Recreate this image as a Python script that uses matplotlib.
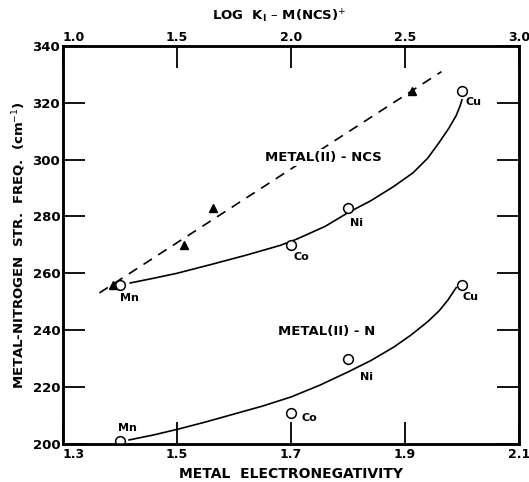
import matplotlib
matplotlib.use("Agg")
import matplotlib.pyplot as plt

# ---- data ----
metals = ["Mn", "Co", "Ni", "Cu"]
electroneg = [1.4, 1.7, 1.8, 2.0]
ncs_freq = [256, 270, 283, 324]
n_freq = [201, 211, 230, 256]
log_k1 = [1.22, 1.53, 1.66, 2.53]

# hand-drawn smooth curves
ncs_curve_x = [1.418, 1.46, 1.50, 1.558, 1.62, 1.681, 1.71, 1.76, 1.80, 1.84,
               1.88, 1.914, 1.94, 1.96, 1.977, 1.99, 1.997, 2.0]
ncs_curve_y = [256.6, 258.3, 260.0, 263.0, 266.3, 269.8, 272.0, 276.5, 281.3, 285.5,
               290.5, 295.3, 300.5, 306.0, 311.0, 315.5, 319.0, 321.0]
n_curve_x = [1.416, 1.46, 1.504, 1.55, 1.60, 1.65, 1.70, 1.75, 1.80, 1.84,
             1.88, 1.91, 1.94, 1.96, 1.975, 1.99]
n_curve_y = [201.4, 203.2, 205.3, 207.7, 210.5, 213.3, 216.5, 220.6, 225.3, 229.3,
             234.0, 238.2, 243.0, 246.8, 250.5, 255.0]

# dashed line vs log K1 (end points)
dash_x = [1.16, 2.66]
dash_y = [253.1, 330.9]

x_ticks = [1.3, 1.5, 1.7, 1.9, 2.1]
top_ticks = [1.0, 1.5, 2.0, 2.5, 3.0]
y_ticks = [200, 220, 240, 260, 280, 300, 320, 340]

# ---- figure ----
fig = plt.figure(figsize=(5.29, 4.82), dpi=100)
ax = fig.add_axes([0.119, 0.079, 0.862, 0.826])
ax.set_xlim(1.3, 2.1)
ax.set_ylim(200, 340)

fw = "bold"
for s in ax.spines.values():
    s.set_linewidth(1.8)

ax.plot(ncs_curve_x, ncs_curve_y, color="black", lw=1.2, zorder=2)
ax.plot(n_curve_x, n_curve_y, color="black", lw=1.2, zorder=2)
ax.plot(electroneg, ncs_freq, "o", ms=7, mfc="white", mec="black", mew=1.1, zorder=4)
ax.plot(electroneg, n_freq, "o", ms=7, mfc="white", mec="black", mew=1.1, zorder=4)

ax.set_xticks(x_ticks)
ax.set_xticklabels([f"{v:.1f}" for v in x_ticks], fontsize=9, fontweight=fw)
ax.get_xticklabels()[0].set_horizontalalignment("left")
ax.set_yticks(y_ticks)
ax.set_yticklabels([str(v) for v in y_ticks], fontsize=9.5, fontweight=fw)
ax.tick_params(axis="both", direction="in", length=16, width=1.3,
               right=True, top=False)
ax.tick_params(axis="y", pad=2)
ax.tick_params(axis="x", pad=3)

ax.set_xlabel("METAL  ELECTRONEGATIVITY", fontsize=10, fontweight=fw, labelpad=4)
ax.set_ylabel("METAL-NITROGEN  STR.  FREQ.  (cm$^{-1}$)", fontsize=9.5, fontweight=fw)
ax.yaxis.set_label_coords(-0.077, 0.5)

ncs_offsets = [(9, -13), (10, -12), (9, -15), (12, -11)]
n_offsets = [(7, 13), (18, -5), (19, -18), (9, -12)]
for m, x, y, off in zip(metals, electroneg, ncs_freq, ncs_offsets):
    ax.annotate(m, (x, y), xytext=off, textcoords="offset pixels",
                ha="center", va="center", fontsize=8, fontweight=fw)
for m, x, y, off in zip(metals, electroneg, n_freq, n_offsets):
    ax.annotate(m, (x, y), xytext=off, textcoords="offset pixels",
                ha="center", va="center", fontsize=8, fontweight=fw)

ax.text(1.763, 239.4, "METAL(II) - N", ha="center", va="center", fontsize=9.5, fontweight=fw)

# top axis: log K1
ax2 = ax.twiny()
ax2.set_xlim(1.0, 3.0)
ax2.plot(dash_x, dash_y, color="black", lw=1.2, ls=(0, (6, 4.5)), zorder=2)
ax2.plot(log_k1, ncs_freq, "^", ms=6, color="black", zorder=3)
ax2.set_xticks(top_ticks)
ax2.set_xticklabels([f"{v:.1f}" for v in top_ticks], fontsize=9, fontweight=fw)
ax2.get_xticklabels()[0].set_horizontalalignment("left")
ax2.tick_params(axis="x", direction="in", length=16, width=1.3, pad=1)
ax2.set_xlabel("LOG  K$_{\\mathbf{I}}$ – M(NCS)$^{+}$", fontsize=9.5, fontweight=fw)
ax2.xaxis.set_label_coords(0.475, 1.052)
ax2.xaxis.label.set_verticalalignment("bottom")
for s in ax2.spines.values():
    s.set_linewidth(1.8)

# label interrupts the dashed line, as in the original
ax2.text(0.571, 0.72, "METAL(II) - NCS", transform=ax2.transAxes, ha="center", va="center",
         fontsize=9.5, fontweight=fw, zorder=5,
         bbox=dict(boxstyle="square,pad=0.15", fc="white", ec="none"))

fig.savefig("out.png", dpi=100)
